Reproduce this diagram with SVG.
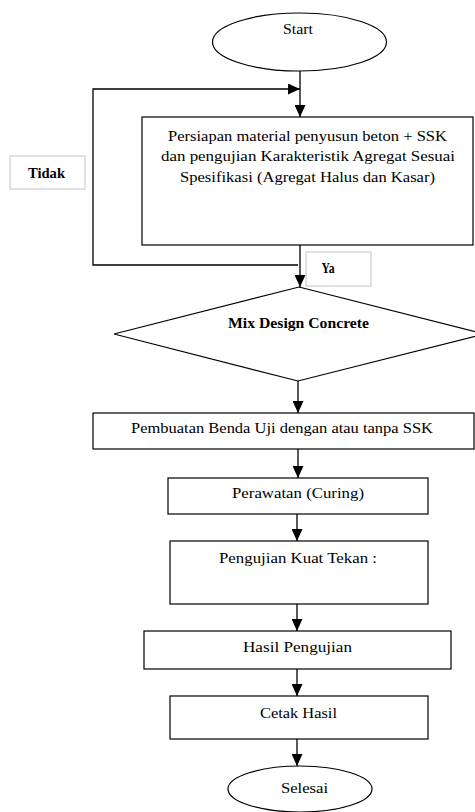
<svg xmlns="http://www.w3.org/2000/svg" width="475" height="812" viewBox="0 0 475 812">
<style>
.shape{fill:#fff;stroke:#000;stroke-width:1.2}
.lbl{fill:#fff;stroke:#c4c4c4;stroke-width:1}
.t{font-family:'Liberation Serif','DejaVu Serif','Times New Roman',serif;font-size:14.5px;fill:#000;text-anchor:middle}
.b{font-weight:bold}
.c{fill:none;stroke:#000;stroke-width:1.3}
</style>
<defs>
<marker id="ah" viewBox="0 0 12 11" refX="12" refY="5.5" markerWidth="12" markerHeight="11" markerUnits="userSpaceOnUse" orient="auto">
<path d="M0,0 L12,5.5 L0,11 z" fill="#000"/>
</marker>
</defs>
<rect width="475" height="812" fill="#fff"/>
<g id="connectors">
<line class="c" x1="300" y1="71" x2="300" y2="117" marker-end="url(#ah)"/>
<path class="c" d="M298,265 H93 V89 H300" marker-end="url(#ah)"/>
<line class="c" x1="300" y1="245" x2="300" y2="287" marker-end="url(#ah)"/>
<line class="c" x1="298" y1="381" x2="298" y2="413" marker-end="url(#ah)"/>
<line class="c" x1="298" y1="449" x2="298" y2="478" marker-end="url(#ah)"/>
<line class="c" x1="297" y1="514" x2="297" y2="541" marker-end="url(#ah)"/>
<line class="c" x1="297" y1="604" x2="297" y2="631" marker-end="url(#ah)"/>
<line class="c" x1="297" y1="669" x2="297" y2="696" marker-end="url(#ah)"/>
<line class="c" x1="297" y1="739" x2="297" y2="766" marker-end="url(#ah)"/>
</g>
<g id="start">
<ellipse class="shape" cx="299.5" cy="42" rx="87" ry="29"/>
<text class="t" x="298" y="34" textLength="30" lengthAdjust="spacingAndGlyphs">Start</text>
</g>
<g id="persiapan">
<rect class="shape" x="142" y="117" width="331" height="128"/>
<text class="t" x="307.5" y="140.5" textLength="279" lengthAdjust="spacingAndGlyphs">Persiapan material penyusun beton + SSK</text>
<text class="t" x="308" y="161" textLength="294" lengthAdjust="spacingAndGlyphs">dan pengujian Karakteristik Agregat  Sesuai</text>
<text class="t" x="307.5" y="181.5" textLength="255" lengthAdjust="spacingAndGlyphs">Spesifikasi (Agregat Halus dan Kasar)</text>
</g>
<g id="label-tidak">
<rect class="lbl" x="10" y="156" width="75" height="33"/>
<text class="t b" x="46.5" y="178" textLength="37" lengthAdjust="spacingAndGlyphs">Tidak</text>
</g>
<g id="label-ya">
<rect class="lbl" x="306" y="252" width="65" height="34"/>
<text class="t b" x="328" y="273" textLength="13" lengthAdjust="spacingAndGlyphs">Ya</text>
</g>
<g id="mixdesign">
<polygon class="shape" points="299,287 484,334 298,381 114,334"/>
<text class="t b" x="298.5" y="327.5" textLength="141" lengthAdjust="spacingAndGlyphs">Mix Design Concrete</text>
</g>
<g id="pembuatan">
<rect class="shape" x="93" y="413" width="381" height="36"/>
<text class="t" x="282" y="433" textLength="302" lengthAdjust="spacingAndGlyphs">Pembuatan Benda Uji dengan atau tanpa SSK</text>
</g>
<g id="perawatan">
<rect class="shape" x="168" y="478" width="260" height="36"/>
<text class="t" x="298" y="498" textLength="132" lengthAdjust="spacingAndGlyphs">Perawatan (Curing)</text>
</g>
<g id="pengujian">
<rect class="shape" x="170" y="541" width="258" height="63"/>
<text class="t" x="298" y="563" textLength="158" lengthAdjust="spacingAndGlyphs">Pengujian Kuat Tekan :</text>
</g>
<g id="hasil">
<rect class="shape" x="144" y="631" width="307" height="38"/>
<text class="t" x="297.5" y="652" textLength="109" lengthAdjust="spacingAndGlyphs">Hasil Pengujian</text>
</g>
<g id="cetak">
<rect class="shape" x="170" y="696" width="258" height="43"/>
<text class="t" x="298.5" y="718" textLength="77" lengthAdjust="spacingAndGlyphs">Cetak Hasil</text>
</g>
<g id="selesai">
<ellipse class="shape" cx="300" cy="789" rx="72" ry="23"/>
<text class="t" x="304.5" y="793" textLength="47" lengthAdjust="spacingAndGlyphs">Selesai</text>
</g>
</svg>
